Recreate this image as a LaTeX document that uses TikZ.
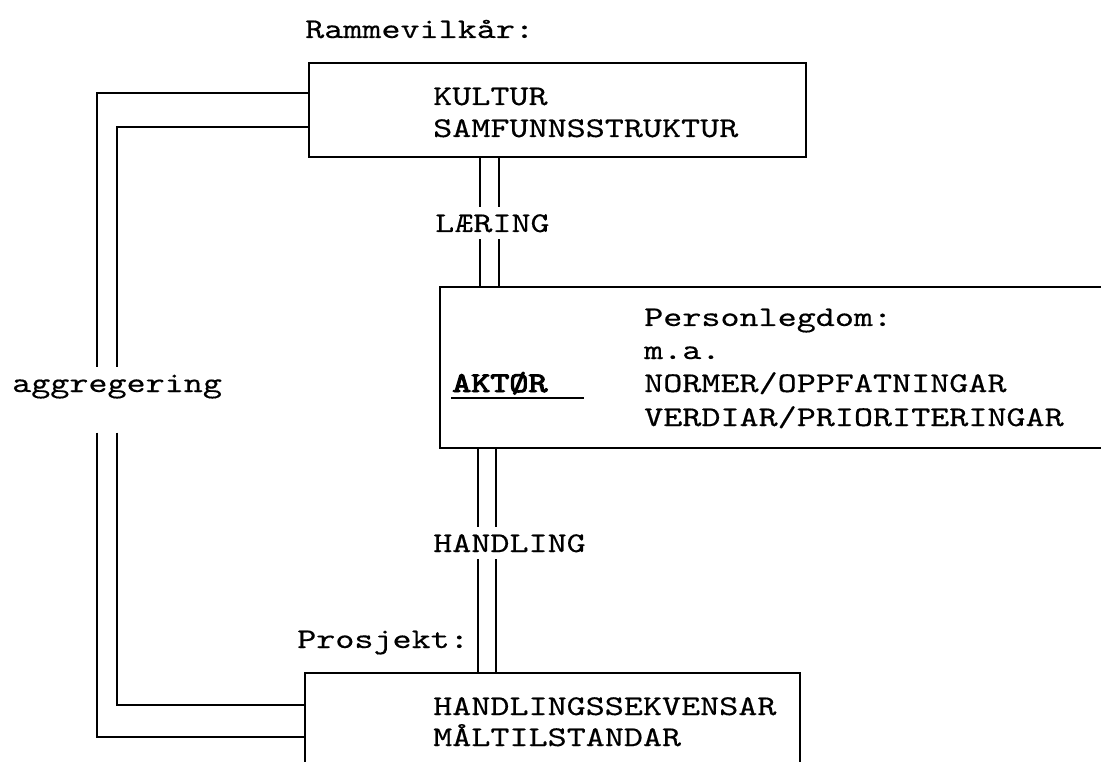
\documentclass[tikz,border=0pt]{standalone}
\usepackage{fontspec}
\usetikzlibrary{calc}
\newfontfamily\twf{lmmono10-regular.otf}[FakeBold=0.3]
\newfontfamily\twb{lmmono10-regular.otf}[FakeBold=3.2]
\newcommand\tw[1]{\scalebox{1.27}[1]{#1}}
\tikzset{
  lbl/.style={anchor=base west, inner sep=0pt, font=\twf\fontsize{28.6}{30}\selectfont},
  gaplbl/.style={lbl, text height=17.5pt, text depth=0pt, inner ysep=7pt},
  boxn/.style={draw, line width=2.4pt, rectangle, inner sep=0pt},
  link/.style={line width=2.4pt},
}
\begin{document}
\begin{tikzpicture}[x=1pt,y=-1pt]
\useasboundingbox (0,0) rectangle (1101,762);
\clip (0,0) rectangle (1101,762);
\fill[white] (0,0) rectangle (1101,762);

% boxes
\node[boxn, minimum width=497pt, minimum height=94pt] (top) at (557.5,110) {};
\node[boxn, minimum width=690pt, minimum height=161pt] (mid) at (785,367.5) {};
\node[boxn, minimum width=495pt, minimum height=130pt] (bot) at (552.5,738) {};

% texts
\node[lbl] (ramme) at (305,38) {\tw{Rammevilkår:}};
\node[lbl] (kultur) at (433,105) {\tw{KULTUR}};
\node[lbl] (samf) at (433,137) {\tw{SAMFUNNSSTRUKTUR}};
\node[gaplbl] (lar) at (435,232) {\tw{LÆRING}};
\node[lbl] (pers) at (644,326) {\tw{Personlegdom:}};
\node[lbl] (ma) at (644,359) {\tw{m.a.}};
\node[lbl] (norm) at (644,392) {\tw{NORMER/OPPFATNINGAR}};
\node[lbl] (verd) at (644,426) {\tw{VERDIAR/PRIORITERINGAR}};
\node[lbl, font=\twb\fontsize{28.6}{30}\selectfont] (akt) at (452,392) {\tw{AKTØR}};
\node[gaplbl, text depth=33pt, inner ysep=7.5pt] (agg) at (12,392) {\tw{aggregering}};
\node[gaplbl] (hand) at (433,552) {\tw{HANDLING}};
\node[lbl] (pros) at (297,648) {\tw{Prosjekt:}};
\node[lbl] (hseq) at (433,715) {\tw{HANDLINGSSEKVENSAR}};
\node[lbl] (malt) at (433,746) {\tw{MÅLTILSTANDAR}};

% underline of AKTØR
\draw[line width=1.8pt] ([xshift=-1pt,yshift=-6pt]akt.base west) -- ++(133,0);

% helper coordinates
\coordinate (la) at (480,0);
\coordinate (lb) at (499,0);
\coordinate (ha) at (478,0);
\coordinate (hb) at (496,0);
\coordinate (xo) at (97,0);
\coordinate (xi) at (117,0);
\coordinate (yo1) at (0,93);
\coordinate (yi1) at (0,127);
\coordinate (yo2) at (0,737);
\coordinate (yi2) at (0,705);

% LÆRING double line
\draw[link] (la |- top.south) -- (la |- lar.north);
\draw[link] (lb |- top.south) -- (lb |- lar.north);
\draw[link] (la |- lar.south) -- (la |- mid.north);
\draw[link] (lb |- lar.south) -- (lb |- mid.north);

% HANDLING double line
\draw[link] (ha |- mid.south) -- (ha |- hand.north);
\draw[link] (hb |- mid.south) -- (hb |- hand.north);
\draw[link] (ha |- hand.south) -- (ha |- bot.north);
\draw[link] (hb |- hand.south) -- (hb |- bot.north);

% aggregering double line
\draw[link] (top.west |- yo1) -| (xo |- agg.north);
\draw[link] (top.west |- yi1) -| (xi |- agg.north);
\draw[link] (xo |- agg.south) |- (bot.west |- yo2);
\draw[link] (xi |- agg.south) |- (bot.west |- yi2);
\end{tikzpicture}
\end{document}
